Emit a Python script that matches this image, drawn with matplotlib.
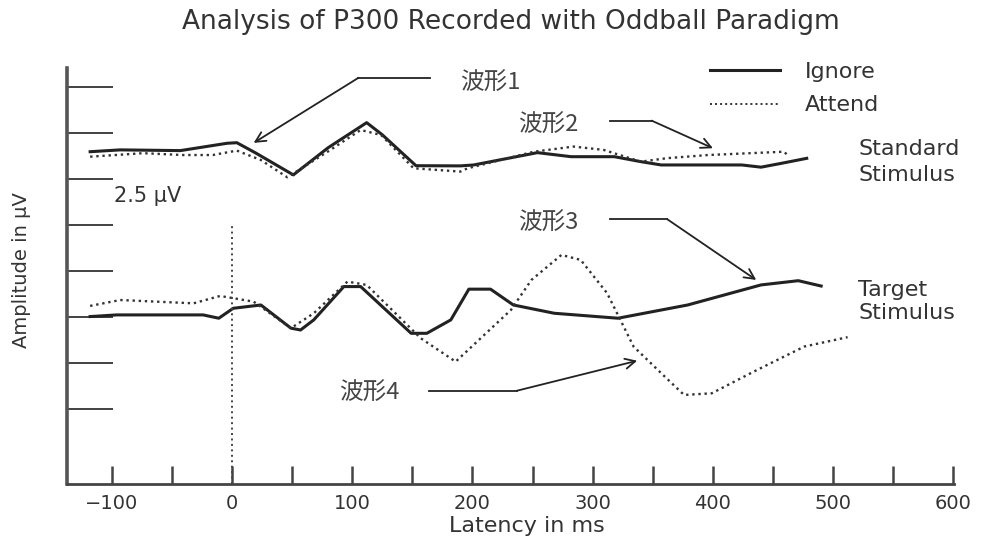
import matplotlib
matplotlib.use("Agg")
import matplotlib.pyplot as plt
from matplotlib.lines import Line2D

plt.rcParams['font.family'] = ['DejaVu Sans']

# ---- data (latency in ms, amplitude in µV, traces offset) ----
std_ignore_ms = [-118, -93, -43, -4, 4, 20, 51, 80, 112, 125, 153, 190, 201, 254, 282, 318, 340, 357, 424, 440, 457, 478]
std_ignore_uv = [13.98, 14.08, 14.04, 14.44, 14.47, 13.9, 12.72, 14.2, 15.56, 14.9, 13.22, 13.21, 13.26, 13.93, 13.71, 13.71, 13.44, 13.26, 13.26, 13.14, 13.35, 13.62]

std_attend_ms = [-118, -74, -41, -16, 4, 24, 46, 80, 107, 124, 151, 190, 196, 251, 284, 309, 340, 362, 396, 459, 463]
std_attend_uv = [13.71, 13.9, 13.8, 13.8, 14.04, 13.53, 12.59, 14.0, 15.16, 14.89, 13.08, 12.9, 13.08, 13.98, 14.26, 14.08, 13.44, 13.63, 13.8, 13.98, 13.75]

tgt_ignore_ms = [-118, -96, -24, -11, 1, 24, 49, 57, 68, 93, 107, 149, 162, 182, 197, 215, 234, 268, 321, 379, 440, 471, 490]
tgt_ignore_uv = [5.02, 5.11, 5.11, 4.93, 5.47, 5.65, 4.39, 4.29, 4.84, 6.65, 6.65, 4.11, 4.11, 4.84, 6.51, 6.51, 5.65, 5.2, 4.93, 5.65, 6.74, 6.97, 6.68]

tgt_attend_ms = [-118, -93, -32, -10, 1, 18, 49, 68, 96, 112, 157, 186, 232, 249, 274, 290, 312, 334, 357, 376, 399, 434, 476, 512]
tgt_attend_uv = [5.6, 5.92, 5.74, 6.14, 6.02, 5.83, 4.39, 5.2, 6.92, 6.74, 3.84, 2.57, 5.38, 7.01, 8.37, 8.1, 6.29, 3.39, 1.94, 0.76, 0.85, 2.03, 3.39, 3.9]

x_ticks = list(range(-100, 601, 50))
x_tick_labels = ['\u2212100' if t == -100 else (str(t) if t % 100 == 0 else '') for t in x_ticks]
y_ticks = [0, 2.5, 5, 7.5, 10, 12.5, 15, 17.5]
stim_onset_ms = 0
stim_line_top = 10.0

# annotations: label, text position, line start, knee, arrow tip (data coords)
ann_labels = ['波形1', '波形2', '波形3', '波形4']
ann_text_xy = [(215, 17.72), (263, 15.43), (263, 10.1), (114, 0.87)]
ann_start_xy = [(165, 17.99), (314, 15.67), (314, 10.31), (164, 0.99)]
ann_knee_xy = [(105, 17.99), (349, 15.67), (362, 10.31), (237, 0.99)]
ann_tip_xy = [(18, 14.46), (400, 14.17), (436, 7.01), (337, 2.62)]

# ---- figure ----
W, H = 994, 541
fig = plt.figure(figsize=(W / 100, H / 100), dpi=100)
ax = fig.add_axes([67 / W, 57 / H, (954 - 67) / W, (484 - 68) / H])
ax.set_xlim(-137.25, 600.5)
ax.set_ylim(-4.08, 18.53)

txt = '#333333'
ax.plot(std_ignore_ms, std_ignore_uv, color='#222222', lw=2.2, solid_joinstyle='round')
ax.plot(std_attend_ms, std_attend_uv, color='#333333', lw=1.7, linestyle=(0, (1, 1.6)))
ax.plot(tgt_ignore_ms, tgt_ignore_uv, color='#222222', lw=2.2, solid_joinstyle='round')
ax.plot(tgt_attend_ms, tgt_attend_uv, color='#333333', lw=1.7, linestyle=(0, (1, 1.6)))
ax.vlines(stim_onset_ms, ax.get_ylim()[0], stim_line_top, colors='#444444', lw=1.4, linestyles=(0, (1, 1.8)))

for spine in ['top', 'right']:
    ax.spines[spine].set_visible(False)
ax.spines['left'].set_color('#555555')
ax.spines['left'].set_linewidth(2.6)
ax.spines['bottom'].set_color('#444444')
ax.spines['bottom'].set_linewidth(2.0)

ax.set_xticks(x_ticks)
ax.set_xticklabels(x_tick_labels)
ax.tick_params(axis='x', direction='in', length=13, width=1.8, color='#444444',
               pad=7, labelsize=14, labelcolor=txt)
ax.set_yticks(y_ticks)
ax.set_yticklabels([])
ax.tick_params(axis='y', direction='in', length=33, width=1.3, color='#333333')

cjk = ['Noto Sans CJK SC', 'DejaVu Sans']
for lab, t, s, k, tip in zip(ann_labels, ann_text_xy, ann_start_xy, ann_knee_xy, ann_tip_xy):
    ax.text(t[0], t[1], lab, family=cjk, fontsize=17, color='#444444', ha='center', va='center')
    ax.plot([s[0], k[0]], [s[1], k[1]], color='#222222', lw=1.3)
    ax.annotate('', xy=tip, xytext=k,
                arrowprops=dict(arrowstyle='->', color='#222222', lw=1.3,
                                shrinkA=0, shrinkB=0, mutation_scale=18))

ax.text(-70.6, 11.58, '2.5 \u00b5V', fontsize=15, color=txt, ha='center', va='center')

# right-side labels
fig.text(858 / W, 1 - 162 / H, 'Standard\nStimulus', fontsize=16, color=txt,
         ha='left', va='center', linespacing=1.4)
fig.text(858 / W, 1 - 301.5 / H, 'Target\nStimulus', fontsize=16, color=txt,
         ha='left', va='center', linespacing=1.15)

# legend
handles = [Line2D([], [], color='#222222', lw=2.2),
           Line2D([], [], color='#333333', lw=1.4, linestyle=(0, (1, 1.6)))]
leg = fig.legend(handles, ['Ignore', 'Attend'], loc='upper left',
                 bbox_to_anchor=(710 / W, 1 - 62 / H), bbox_transform=fig.transFigure,
                 frameon=False, fontsize=16, handlelength=3.15, handletextpad=1.1,
                 labelspacing=0.6, borderpad=0, borderaxespad=0)
for t in leg.get_texts():
    t.set_color(txt)

# title and axis labels
fig.text(511 / W, 1 - 22 / H, 'Analysis of P300 Recorded with Oddball Paradigm',
         fontsize=19, color=txt, ha='center', va='center')
fig.text(527 / W, 1 - 526 / H, 'Latency in ms', fontsize=16, color=txt, ha='center', va='center')
fig.text(22 / W, 1 - 270 / H, 'Amplitude in \u00b5V', fontsize=14, color=txt,
         ha='center', va='center', rotation=90)

fig.savefig('out.png', dpi=100)
